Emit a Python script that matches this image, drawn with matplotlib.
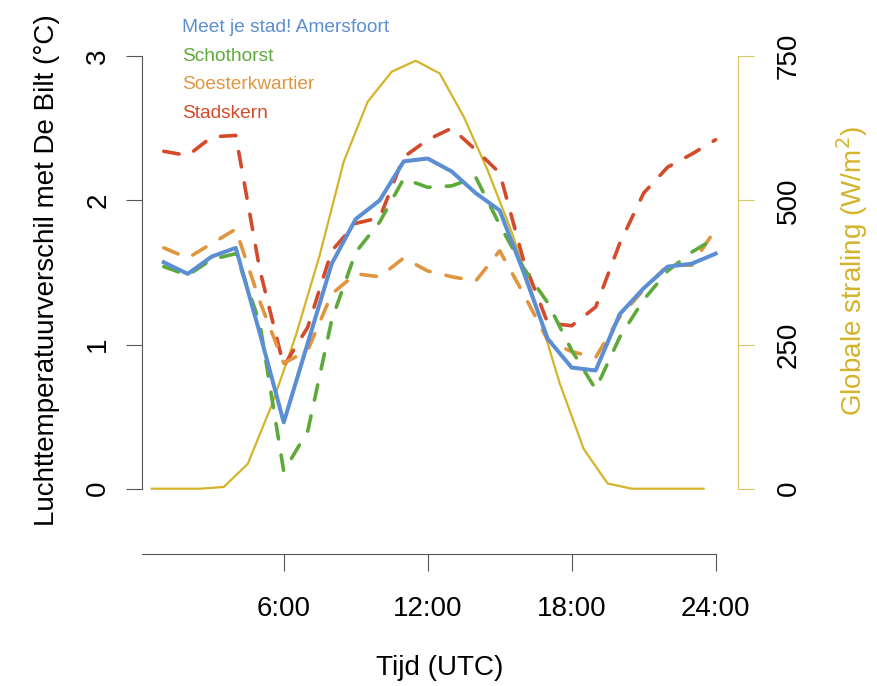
import matplotlib
matplotlib.use("Agg")
import matplotlib.pyplot as plt

plt.rcParams['font.family'] = ['Liberation Sans', 'DejaVu Sans']

# uren (UTC) en temperatuurverschil met De Bilt
uren = list(range(1, 25))
amersfoort = [1.57, 1.49, 1.61, 1.67, 1.08, 0.46, 1.01, 1.56, 1.87, 2.00, 2.27, 2.29,
              2.20, 2.05, 1.93, 1.50, 1.04, 0.84, 0.82, 1.21, 1.39, 1.54, 1.56, 1.63]
schothorst = [1.54, 1.48, 1.59, 1.63, 1.15, 0.12, 0.40, 1.17, 1.64, 1.85, 2.15, 2.09,
              2.10, 2.16, 1.83, 1.53, 1.29, 0.96, 0.69, 1.05, 1.31, 1.51, 1.64, 1.74]
soesterkwartier = [1.67, 1.60, 1.70, 1.80, 1.30, 0.87, 0.96, 1.35, 1.49, 1.47, 1.60, 1.51,
                   1.47, 1.44, 1.65, 1.35, 1.03, 0.95, 0.91, 1.19, 1.38, 1.55, 1.55, 1.80]
stadskern = [2.34, 2.31, 2.44, 2.45, 1.52, 0.85, 1.12, 1.65, 1.84, 1.88, 2.30, 2.42,
             2.50, 2.35, 2.19, 1.58, 1.15, 1.13, 1.26, 1.70, 2.05, 2.23, 2.32, 2.42]

# globale straling (W/m2), uurgemiddelden
straling_uren = [u - 0.5 for u in uren]
straling = [0, 0, 0, 3, 43, 145, 265, 405, 567, 671, 723, 742,
            720, 645, 552, 445, 321, 183, 69, 9, 0, 0, 0, 0]

xticks = [6, 12, 18, 24]
xticklabels = ['6:00', '12:00', '18:00', '24:00']

blauw = '#5B8ED3'
groen = '#5DAA3A'
oranje = '#E0953F'
rood = '#D44A2A'
geel = '#D4B42A'
asgrijs = '#555555'

W, H = 877, 686
fig = plt.figure(figsize=(W / 100, H / 100), dpi=100)
ax = fig.add_axes([141.7 / W, 1 - 554 / H, 596 / W, 514 / H])
ax.set_zorder(2)
ax.patch.set_visible(False)
ax2 = ax.twinx()
ax2.set_zorder(1)

ax2.plot(straling_uren, straling, color=geel, lw=1.6)

dash = dict(lw=2.6, dashes=(4.3, 4.5), dash_capstyle='round')
ax.plot(uren, stadskern, color=rood, **dash)
ax.plot(uren, soesterkwartier, color=oranje, **dash)
ax.plot(uren, schothorst, color=groen, **dash)
ax.plot(uren, amersfoort, color=blauw, lw=2.9, solid_joinstyle='round')

ax.set_xlim(0.08, 24.92)
ax.set_ylim(-0.4528, 3.1117)
ax2.set_ylim(-0.4528 * 250, 3.1117 * 250)

for a in (ax, ax2):
    a.spines['top'].set_visible(False)
ax.spines['right'].set_visible(False)
ax2.spines['left'].set_visible(False)
ax2.spines['bottom'].set_visible(False)

ax.spines['left'].set_bounds(0, 3)
ax.spines['bottom'].set_bounds(0.08, 24)
ax.spines['left'].set_color(asgrijs)
ax.spines['bottom'].set_color(asgrijs)
ax2.spines['right'].set_bounds(0, 750)
ax2.spines['right'].set_color('#DCC465')

ax.set_xticks(xticks)
ax.set_xticklabels(xticklabels)
ax.set_yticks([0, 1, 2, 3])
ax2.set_yticks([0, 250, 500, 750])

ax.tick_params(axis='x', length=12, width=0.8, color=asgrijs, labelsize=20, pad=18)
ax.tick_params(axis='y', length=11.5, width=0.8, color=asgrijs, labelsize=20, pad=10.5)
ax2.tick_params(axis='y', length=11.5, width=0.8, color='#DCC465', labelsize=20, pad=16)
plt.setp(ax.get_yticklabels(), rotation=90, va='center')
plt.setp(ax2.get_yticklabels(), rotation=90, va='center')

fig.text(47 / W, 1 - 270 / H, 'Luchttemperatuurverschil met De Bilt (°C)',
         rotation=90, ha='center', va='center', fontsize=20)
fig.text(852 / W, 1 - 271 / H, 'Globale straling (W/m$^2$)', color=geel,
         rotation=90, ha='center', va='center', fontsize=20)
fig.text(439.7 / W, 1 - 668 / H, 'Tijd (UTC)', ha='center', va='center', fontsize=20)

namen = ['Meet je stad! Amersfoort', 'Schothorst', 'Soesterkwartier', 'Stadskern']
kleuren = [blauw, groen, oranje, rood]
for i, (naam, kleur) in enumerate(zip(namen, kleuren)):
    fig.text(181.7 / W, 1 - (27.7 + 28.5 * i) / H, naam, color=kleur,
             ha='left', va='center', fontsize=13.8)

fig.savefig('out.png', dpi=100)
